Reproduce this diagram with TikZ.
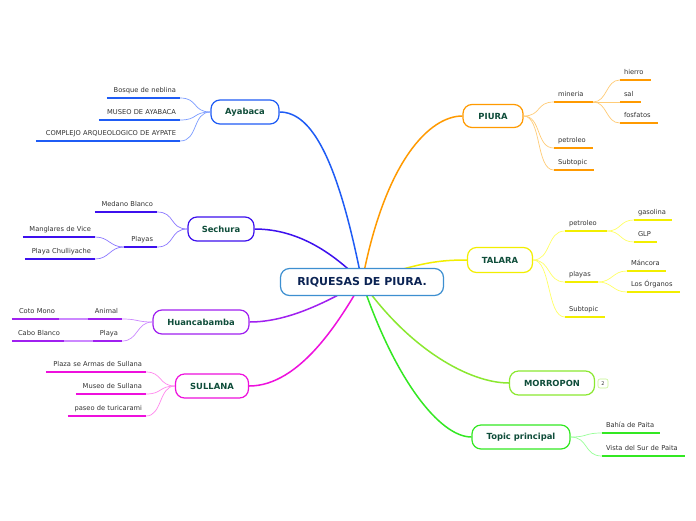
\documentclass[tikz,border=0pt]{standalone}
\usepackage{fontspec}
\setmainfont{DejaVu Sans}
\usetikzlibrary{backgrounds}
\definecolor{cAy}{HTML}{1F5CF5}\definecolor{lAy}{HTML}{7C9CFF}
\definecolor{cSe}{HTML}{3D10EE}\definecolor{lSe}{HTML}{8C78FF}
\definecolor{cHu}{HTML}{A020F0}\definecolor{lHu}{HTML}{CC88FF}
\definecolor{cSu}{HTML}{EE10DD}\definecolor{lSu}{HTML}{FF88EE}
\definecolor{cPi}{HTML}{FF9A00}\definecolor{lPi}{HTML}{FFCC77}
\definecolor{cTa}{HTML}{F2EE00}\definecolor{lTa}{HTML}{FFFF66}
\definecolor{cMo}{HTML}{8BE830}\definecolor{lMo}{HTML}{C4F590}
\definecolor{cTo}{HTML}{33E822}\definecolor{lTo}{HTML}{99FF99}
\definecolor{cCe}{HTML}{3D8FD0}
\definecolor{tTop}{HTML}{0F4D3A}
\definecolor{tCen}{HTML}{0B2353}
\definecolor{tLeaf}{HTML}{333333}
\tikzset{
  leaftxt/.style={inner xsep=4pt, inner ysep=2pt, text height=5pt, text depth=3pt,
    font=\fontsize{6.7}{8}\selectfont, text=tLeaf},
  topic/.style={draw=#1, line width=1.2pt, fill=white, rounded corners=9pt, inner sep=0pt,
    minimum height=24pt, font=\bfseries\fontsize{8.4}{10}\selectfont, text=tTop},
  central/.style={draw=cCe, line width=1.2pt, fill=white, rounded corners=9pt, inner sep=0pt,
    minimum width=163pt, minimum height=27pt, font=\bfseries\fontsize{11}{13}\selectfont, text=tCen},
  mainc/.style={draw=#1, line width=1.5pt},
  subc/.style={draw=#1, line width=0.7pt},
}
\newcommand\leaf[7]{%
  \pgfmathsetmacro\lw{#4-#3-8}%
  \pgfmathsetmacro\lx{(#3+#4)/2}%
  \node[leaftxt, text width=\lw pt, align=#6, anchor=south] (#1) at (\lx,#5) {#7};
  \draw[line width=1.8pt, draw=#2] (#1.south west) -- (#1.south east);
}
\begin{document}
\begin{tikzpicture}[x=1pt, y=-1pt]
\useasboundingbox (0,0) rectangle (696,520);
% central
\node[central] (C) at (362,282) {RIQUESAS DE PIURA.};
% topics
\node[topic=cAy, minimum width=68pt] (Ay) at (245,112) {Ayabaca};
\node[topic=cSe, minimum width=66pt] (Se) at (221,229) {Sechura};
\node[topic=cHu, minimum width=96pt] (Hu) at (201,322) {Huancabamba};
\node[topic=cSu, minimum width=73pt] (Su) at (212,386) {SULLANA};
\node[topic=cPi, minimum width=60pt, minimum height=23pt] (Pi) at (493,116) {PIURA};
\node[topic=cTa, minimum width=65pt, minimum height=25pt] (Ta) at (500,260) {TALARA};
\node[topic=cMo, minimum width=85pt] (Mo) at (552,383) {MORROPON};
\node[topic=cTo, minimum width=98pt] (To) at (521,437) {Topic principal};
\node[draw=lMo, line width=0.6pt, fill=white, rounded corners=2pt, minimum width=10pt, minimum height=9pt,
  inner sep=0pt, font=\fontsize{5}{6}\selectfont, text=tLeaf] (badge) at (603,383.5) {2};
% main connectors
\begin{scope}[on background layer]
\fill[white] (0,0) rectangle (696,520);
\draw[mainc=cAy] (C.center) .. controls (338,160) and (312,112) .. (Ay.east);
\draw[mainc=cSe] (C.center) .. controls (335,255) and (300,229) .. (Se.east);
\draw[mainc=cHu] (C.center) .. controls (330,300) and (290,322) .. (Hu.east);
\draw[mainc=cSu] (C.center) .. controls (340,320) and (300,386) .. (Su.east);
\draw[mainc=cPi] (C.center) .. controls (385,160) and (430,116) .. (Pi.west);
\draw[mainc=cTa] (C.center) .. controls (420,262) and (440,260) .. (Ta.west);
\draw[mainc=cMo] (C.center) .. controls (410,350) and (470,383) .. (Mo.west);
\draw[mainc=cTo] (C.center) .. controls (395,380) and (440,437) .. (To.west);
\end{scope}
% Ayabaca
\leaf{A1}{cAy}{107}{180}{98}{right}{Bosque de neblina}
\leaf{A2}{cAy}{99}{180}{120}{right}{MUSEO DE AYABACA}
\leaf{A3}{cAy}{36}{180}{141}{right}{COMPLEJO ARQUEOLOGICO DE AYPATE}
\foreach \n in {A1,A2,A3}
  \draw[subc=lAy] (Ay.west) .. controls +(-18,0) and +(18,0) .. (\n.south east);
% Sechura
\leaf{S1}{cSe}{95}{157}{212}{right}{Medano Blanco}
\leaf{S2}{cSe}{124}{157}{247}{right}{Playas}
\leaf{S21}{cSe}{23}{95}{237}{right}{Manglares de Vice}
\leaf{S22}{cSe}{25}{95}{259}{right}{Playa Chulliyache}
\foreach \n in {S1,S2}
  \draw[subc=lSe] (Se.west) .. controls +(-18,0) and +(18,0) .. (\n.south east);
\foreach \n in {S21,S22}
  \draw[subc=lSe] (S2.south west) .. controls +(-14,0) and +(14,0) .. (\n.south east);
% Huancabamba
\leaf{H1}{cHu}{88}{122}{319}{right}{Animal}
\leaf{H11}{cHu}{12}{59}{319}{right}{Coto Mono}
\leaf{H2}{cHu}{93}{122}{341}{right}{Playa}
\leaf{H21}{cHu}{12}{64}{341}{right}{Cabo Blanco}
\foreach \n in {H1,H2}
  \draw[subc=lHu] (Hu.west) .. controls +(-16,0) and +(16,0) .. (\n.south east);
\draw[draw=lHu, line width=1.6pt] (H1.south west) -- (H11.south east);
\draw[draw=lHu, line width=1.6pt] (H2.south west) -- (H21.south east);
% Sullana
\leaf{U1}{cSu}{46}{146}{372}{right}{Plaza se Armas de Sullana}
\leaf{U2}{cSu}{76}{146}{394}{right}{Museo de Sullana}
\leaf{U3}{cSu}{68}{146}{416}{right}{paseo de turicarami}
\foreach \n in {U1,U2,U3}
  \draw[subc=lSu] (Su.west) .. controls +(-16,0) and +(16,0) .. (\n.south east);
% PIURA
\leaf{P1}{cPi}{554}{593}{102}{left}{mineria}
\leaf{P11}{cPi}{620}{651}{80}{left}{hierro}
\leaf{P12}{cPi}{620}{641}{102}{left}{sal}
\leaf{P13}{cPi}{620}{658}{123}{left}{fosfatos}
\leaf{P2}{cPi}{554}{593}{148}{left}{petroleo}
\leaf{P3}{cPi}{554}{594}{170}{left}{Subtopic}
\foreach \n in {P1,P2,P3}
  \draw[subc=lPi] (Pi.east) .. controls +(18,0) and +(-18,0) .. (\n.south west);
\foreach \n in {P11,P12,P13}
  \draw[subc=lPi] (P1.south east) .. controls +(14,0) and +(-14,0) .. (\n.south west);
% TALARA
\leaf{T1}{cTa}{565}{607}{231}{left}{petroleo}
\leaf{T11}{cTa}{634}{672}{220}{left}{gasolina}
\leaf{T12}{cTa}{634}{657}{242}{left}{GLP}
\leaf{T2}{cTa}{565}{598}{282}{left}{playas}
\leaf{T21}{cTa}{627}{666}{271}{left}{Máncora}
\leaf{T22}{cTa}{627}{680}{292}{left}{Los Órganos}
\leaf{T3}{cTa}{565}{605}{317}{left}{Subtopic}
\foreach \n in {T1,T2,T3}
  \draw[subc=lTa] (Ta.east) .. controls +(18,0) and +(-18,0) .. (\n.south west);
\foreach \n in {T11,T12}
  \draw[subc=lTa] (T1.south east) .. controls +(14,0) and +(-14,0) .. (\n.south west);
\foreach \n in {T21,T22}
  \draw[subc=lTa] (T2.south east) .. controls +(14,0) and +(-14,0) .. (\n.south west);
% Topic principal
\leaf{G1}{cTo}{602}{660}{433}{left}{Bahía de Paita}
\leaf{G2}{cTo}{602}{685}{456}{left}{Vista del Sur de Paita}
\foreach \n in {G1,G2}
  \draw[subc=lTo] (To.east) .. controls +(18,0) and +(-18,0) .. (\n.south west);
\end{tikzpicture}
\end{document}
